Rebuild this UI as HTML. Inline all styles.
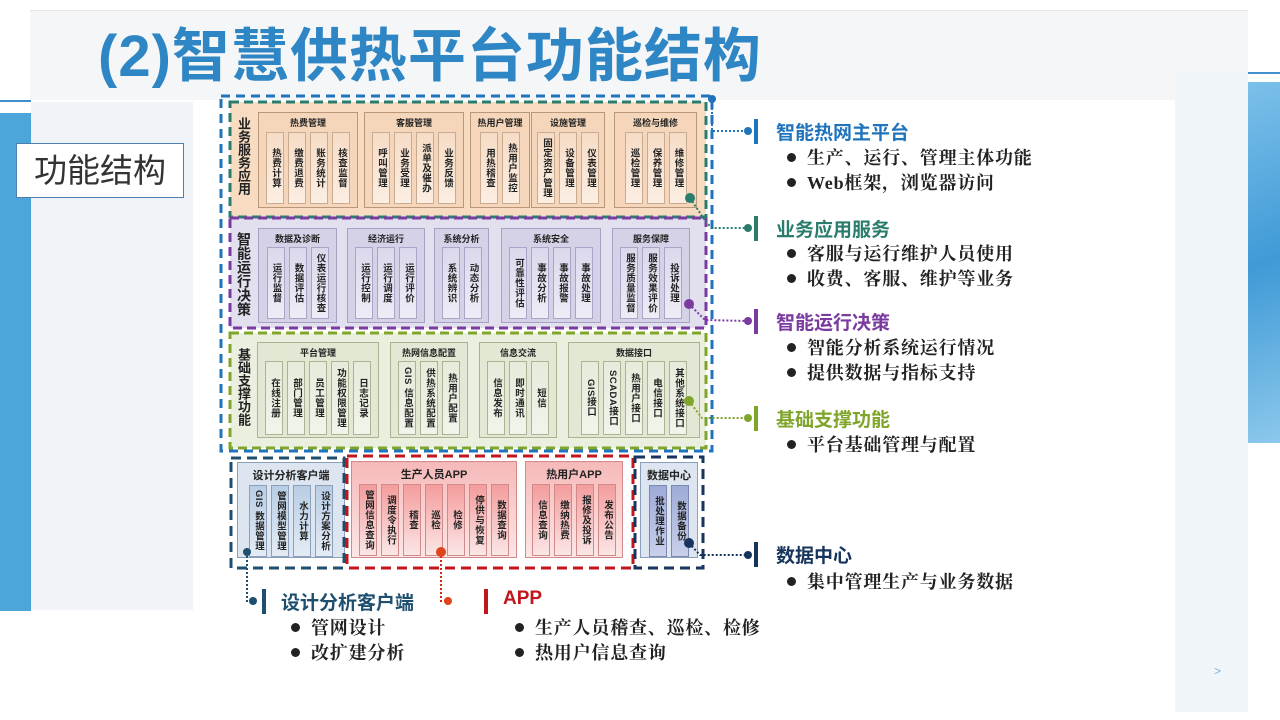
<!DOCTYPE html>
<html><head><meta charset="utf-8"><style>
*{margin:0;padding:0;box-sizing:border-box}
body{width:1280px;height:720px;position:relative;overflow:hidden;background:#fff;font-family:"Liberation Sans","Noto Sans CJK SC",sans-serif}
.a{position:absolute}
.g{position:absolute;border:1px solid #b89878;background:#f5d6ba}
.g .h{position:absolute;left:0;right:0;top:3px;text-align:center;font-size:9px;font-weight:bold;color:#222;white-space:nowrap}
.g .r{position:absolute;left:0;right:0;display:flex;justify-content:center;gap:4px}
.s{width:18px;border:1px solid #c9ab90;background:linear-gradient(#f6dcc6,#fbeee2);writing-mode:vertical-rl;text-orientation:upright;font-size:9.5px;font-weight:bold;line-height:16px;display:flex;align-items:center;justify-content:center;color:#222;white-space:nowrap;letter-spacing:0.5px}
.p.g{background:#d5d1e6;border-color:#a7a1c4}.p .s{background:linear-gradient(#dcd8ec,#eeecf6);border-color:#aaa4c6}
.o.g{background:#e2e8d4;border-color:#a8b390}.o .s{background:linear-gradient(#e6ebdb,#f1f4ea);border-color:#aab394}
.b.g{background:#dde6f0;border-color:#8aa0b8}.b .s{background:linear-gradient(#b8cde4,#e4ecf5);border-color:#8aa0bb}
.rd.g{background:linear-gradient(#f6b9b9,#fde6e6);border-color:#d08888}.rd .s{background:linear-gradient(#f49c9c,#fbe6e6);border-color:#d08a8a}
.n .s{background:linear-gradient(#9eabd6,#c8d0ea);border-color:#7c88b0}
.vl{position:absolute;writing-mode:vertical-rl;text-orientation:upright;font-size:13px;font-weight:bold;color:#222;line-height:14px}
.mx{text-orientation:mixed}
.tt{position:absolute;font-size:19px;font-weight:bold;white-space:nowrap}
.bl{position:absolute;font-family:"Liberation Serif","Noto Serif CJK SC",serif;font-size:18px;color:#222;white-space:nowrap;font-weight:bold;letter-spacing:0.8px}
.bl::before{content:"";position:absolute;left:-20px;top:9px;width:9px;height:9px;border-radius:50%;background:#222}
.bar{position:absolute;width:4px;height:25px}
</style></head><body>
<div class="a" style="left:30px;top:10px;width:1218px;height:90px;background:#f5f6f7;border-top:1px solid #e6e6e6"></div>
<div class="a" style="left:0;top:100px;width:31px;height:2px;background:#3f8fcf"></div>
<div class="a" style="left:0;top:113px;width:31px;height:498px;background:#4da6da"></div>
<div class="a" style="left:31px;top:102px;width:162px;height:508px;background:#f0f4f8"></div>
<div class="a" style="left:1175px;top:72px;width:73px;height:640px;background:#f0f5f9"></div>
<div class="a" style="left:1248px;top:72px;width:32px;height:2px;background:#3f8fcf"></div>
<div class="a" style="left:1248px;top:82px;width:32px;height:361px;background:linear-gradient(160deg,#7cc0ea,#3f9ad6 50%,#8cc8ec)"></div>
<div class="a" style="left:1214px;top:664px;font-size:12px;color:#7ab0dd">&gt;</div>
<div class="a" style="left:98px;top:22px;font-size:58px;font-weight:bold;color:#2e86c4;white-space:nowrap;line-height:70px;letter-spacing:1px">(2)智慧供热平台功能结构</div>
<div class="a" style="left:16px;top:143px;width:168px;height:55px;background:#fff;border:1px solid #4a7fb0;font-size:33px;color:#333;line-height:53px;text-align:center">功能结构</div>

<div class="a" style="left:230px;top:102px;width:476px;height:115px;background:#f8dcc2"></div>
<div class="a" style="left:230px;top:218px;width:476px;height:110px;background:#e2dfee"></div>
<div class="a" style="left:230px;top:333px;width:476px;height:115px;background:#eaefe0"></div>

<div class="vl" style="left:236px;top:117px">业务服务应用</div>
<div class="vl" style="left:236px;top:232px;font-size:14px;line-height:15px">智能运行决策</div>
<div class="vl" style="left:236px;top:348px">基础支撑功能</div>

<div class="g" style="left:258px;top:112px;width:100px;height:96px"><div class="h">热费管理</div><div class="r" style="top:19px"><div class="s" style="height:72px">热费计算</div><div class="s" style="height:72px">缴费退费</div><div class="s" style="height:72px">账务统计</div><div class="s" style="height:72px">核查监督</div></div></div>
<div class="g" style="left:364px;top:112px;width:100px;height:96px"><div class="h">客服管理</div><div class="r" style="top:19px"><div class="s" style="height:72px">呼叫管理</div><div class="s" style="height:72px">业务受理</div><div class="s" style="height:72px">派单及催办</div><div class="s" style="height:72px">业务反馈</div></div></div>
<div class="g" style="left:470px;top:112px;width:60px;height:96px"><div class="h">热用户管理</div><div class="r" style="top:19px"><div class="s" style="height:72px">用热稽查</div><div class="s" style="height:72px">热用户监控</div></div></div>
<div class="g" style="left:531px;top:112px;width:74px;height:96px"><div class="h">设施管理</div><div class="r" style="top:19px"><div class="s" style="height:72px">固定资产管理</div><div class="s" style="height:72px">设备管理</div><div class="s" style="height:72px">仪表管理</div></div></div>
<div class="g" style="left:614px;top:112px;width:83px;height:96px"><div class="h">巡检与维修</div><div class="r" style="top:19px"><div class="s" style="height:72px">巡检管理</div><div class="s" style="height:72px">保养管理</div><div class="s" style="height:72px">维修管理</div></div></div>

<div class="g p" style="left:258px;top:228px;width:79px;height:95px"><div class="h">数据及诊断</div><div class="r" style="top:18px"><div class="s" style="height:72px">运行监督</div><div class="s" style="height:72px">数据评估</div><div class="s" style="height:72px">仪表运行核查</div></div></div>
<div class="g p" style="left:347px;top:228px;width:78px;height:95px"><div class="h">经济运行</div><div class="r" style="top:18px"><div class="s" style="height:72px">运行控制</div><div class="s" style="height:72px">运行调度</div><div class="s" style="height:72px">运行评价</div></div></div>
<div class="g p" style="left:434px;top:228px;width:55px;height:95px"><div class="h">系统分析</div><div class="r" style="top:18px"><div class="s" style="height:72px">系统辨识</div><div class="s" style="height:72px">动态分析</div></div></div>
<div class="g p" style="left:501px;top:228px;width:100px;height:95px"><div class="h">系统安全</div><div class="r" style="top:18px"><div class="s" style="height:72px">可靠性评估</div><div class="s" style="height:72px">事故分析</div><div class="s" style="height:72px">事故报警</div><div class="s" style="height:72px">事故处理</div></div></div>
<div class="g p" style="left:612px;top:228px;width:78px;height:95px"><div class="h">服务保障</div><div class="r" style="top:18px"><div class="s" style="height:72px">服务质量监督</div><div class="s" style="height:72px">服务效果评价</div><div class="s" style="height:72px">投诉处理</div></div></div>

<div class="g o" style="left:257px;top:342px;width:122px;height:96px"><div class="h">平台管理</div><div class="r" style="top:18px"><div class="s" style="height:74px">在线注册</div><div class="s" style="height:74px">部门管理</div><div class="s" style="height:74px">员工管理</div><div class="s" style="height:74px">功能权限管理</div><div class="s" style="height:74px">日志记录</div></div></div>
<div class="g o" style="left:390px;top:342px;width:78px;height:96px"><div class="h">热网信息配置</div><div class="r" style="top:18px"><div class="s mx" style="height:74px">GIS 信息配置</div><div class="s" style="height:74px">供热系统配置</div><div class="s" style="height:74px">热用户配置</div></div></div>
<div class="g o" style="left:479px;top:342px;width:78px;height:96px"><div class="h">信息交流</div><div class="r" style="top:18px"><div class="s" style="height:74px">信息发布</div><div class="s" style="height:74px">即时通讯</div><div class="s" style="height:74px">短信</div></div></div>
<div class="g o" style="left:568px;top:342px;width:132px;height:96px"><div class="h">数据接口</div><div class="r" style="top:18px"><div class="s mx" style="height:74px">GIS接口</div><div class="s mx" style="height:74px">SCADA接口</div><div class="s" style="height:74px">热用户接口</div><div class="s" style="height:74px">电信接口</div><div class="s" style="height:74px">其他系统接口</div></div></div>

<div class="g b" style="left:237px;top:462px;width:108px;height:96px"><div class="h" style="font-size:11px;top:4px">设计分析客户端</div><div class="r" style="top:22px"><div class="s mx" style="height:72px">GIS 数据管理</div><div class="s" style="height:72px">管网模型管理</div><div class="s" style="height:72px">水力计算</div><div class="s" style="height:72px">设计方案分析</div></div></div>
<div class="g rd" style="left:351px;top:461px;width:166px;height:97px"><div class="h" style="font-size:11px;top:4px">生产人员APP</div><div class="r" style="top:22px"><div class="s" style="height:72px">管网信息查询</div><div class="s" style="height:72px">调度令执行</div><div class="s" style="height:72px">稽查</div><div class="s" style="height:72px">巡检</div><div class="s" style="height:72px">检修</div><div class="s" style="height:72px">停供与恢复</div><div class="s" style="height:72px">数据查询</div></div></div>
<div class="g rd" style="left:525px;top:461px;width:98px;height:97px"><div class="h" style="font-size:11px;top:4px">热用户APP</div><div class="r" style="top:22px"><div class="s" style="height:72px">信息查询</div><div class="s" style="height:72px">缴纳热费</div><div class="s" style="height:72px">报修及投诉</div><div class="s" style="height:72px">发布公告</div></div></div>
<div class="g b n" style="left:640px;top:462px;width:58px;height:96px"><div class="h" style="font-size:11px;top:4px">数据中心</div><div class="r" style="top:22px"><div class="s" style="height:72px">批处理作业</div><div class="s" style="height:72px">数据备份</div></div></div>

<svg class="a" style="left:0;top:0" width="1280" height="720">
<g fill="none" stroke-width="3">
<rect x="221" y="96" width="491" height="355" stroke="#1f74bc" stroke-dasharray="9,6"/>
<rect x="230" y="102" width="476" height="115" stroke="#2a7d6d" stroke-dasharray="9,5"/>
<rect x="230" y="218" width="476" height="110" stroke="#7a3aa0" stroke-dasharray="9,5"/>
<rect x="230" y="333" width="476" height="115" stroke="#7fa52a" stroke-dasharray="9,5"/>
<rect x="231" y="458" width="113" height="110" stroke="#1f4f6e" stroke-dasharray="10,6"/>
<rect x="347" y="456" width="286" height="112" stroke="#c0161c" stroke-dasharray="10,6"/>
<rect x="635" y="457" width="68" height="111" stroke="#16345c" stroke-dasharray="10,6"/>
</g>
<g fill="none" stroke-width="2" stroke-dasharray="2,2">
<polyline points="712,100 712,131 748,131" stroke="#1f74bc"/>
<polyline points="690,198 706,222 712,228 748,228" stroke="#2a7d6d"/>
<polyline points="689,304 705,320 748,321" stroke="#7a3aa0"/>
<polyline points="689,401 702,418 748,418" stroke="#7fa52a"/>
<polyline points="689,543 700,555 748,555" stroke="#16345c"/>
<polyline points="247,552 247,601 253,601" stroke="#1f4f6e"/>
<polyline points="441,552 441,601 448,601" stroke="#d02a10"/>
</g>
<circle cx="712" cy="99" r="4" fill="#1f74bc"/><circle cx="748" cy="131" r="4" fill="#1f74bc"/>
<circle cx="690" cy="198" r="5" fill="#2a7d6d"/><circle cx="748" cy="228" r="4" fill="#2a7d6d"/>
<circle cx="689" cy="304" r="5" fill="#7a3aa0"/><circle cx="748" cy="321" r="4" fill="#7a3aa0"/>
<circle cx="689" cy="401" r="5" fill="#7fa52a"/><circle cx="748" cy="418" r="4" fill="#7fa52a"/>
<circle cx="689" cy="543" r="5" fill="#16345c"/><circle cx="748" cy="555" r="4" fill="#16345c"/>
<circle cx="247" cy="552" r="4" fill="#1f4f6e"/><circle cx="253" cy="601" r="4" fill="#1f4f6e"/>
<circle cx="441" cy="552" r="5" fill="#e0441a"/><circle cx="448" cy="601" r="4" fill="#e0441a"/>
</svg>

<div class="bar" style="left:754px;top:119px;background:#1f74bc"></div>
<div class="tt" style="left:776px;top:118px;color:#1f74bc">智能热网主平台</div>
<div class="bl" style="left:807px;top:144px">生产、运行、管理主体功能</div>
<div class="bl" style="left:807px;top:169px">Web框架，浏览器访问</div>

<div class="bar" style="left:754px;top:216px;background:#2a7d6d"></div>
<div class="tt" style="left:776px;top:215px;color:#2a7d6d">业务应用服务</div>
<div class="bl" style="left:807px;top:240px">客服与运行维护人员使用</div>
<div class="bl" style="left:807px;top:265px">收费、客服、维护等业务</div>

<div class="bar" style="left:754px;top:309px;background:#7a3aa0"></div>
<div class="tt" style="left:776px;top:308px;color:#7a3aa0">智能运行决策</div>
<div class="bl" style="left:807px;top:334px">智能分析系统运行情况</div>
<div class="bl" style="left:807px;top:359px">提供数据与指标支持</div>

<div class="bar" style="left:754px;top:406px;background:#7fa52a"></div>
<div class="tt" style="left:776px;top:405px;color:#7fa52a">基础支撑功能</div>
<div class="bl" style="left:807px;top:431px">平台基础管理与配置</div>

<div class="bar" style="left:754px;top:542px;background:#16345c"></div>
<div class="tt" style="left:776px;top:541px;color:#16345c">数据中心</div>
<div class="bl" style="left:807px;top:568px">集中管理生产与业务数据</div>

<div class="bar" style="left:262px;top:589px;background:#1f4f6e"></div>
<div class="tt" style="left:281px;top:588px;color:#1f4f6e">设计分析客户端</div>
<div class="bl" style="left:311px;top:614px">管网设计</div>
<div class="bl" style="left:311px;top:639px">改扩建分析</div>

<div class="bar" style="left:484px;top:589px;background:#c0161c"></div>
<div class="tt" style="left:503px;top:588px;color:#c0161c">APP</div>
<div class="bl" style="left:535px;top:614px">生产人员稽查、巡检、检修</div>
<div class="bl" style="left:535px;top:639px">热用户信息查询</div>
</body></html>
